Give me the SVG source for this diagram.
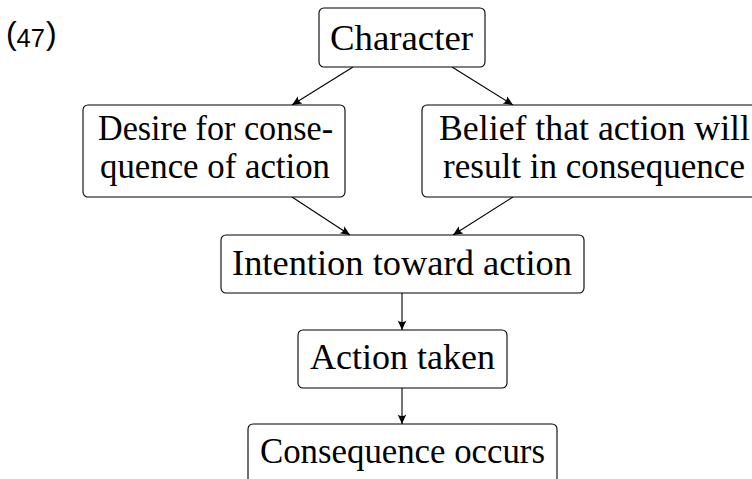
<svg xmlns="http://www.w3.org/2000/svg" width="752" height="479" viewBox="0 0 752 479">
<defs>
<style>
.box{fill:#fff;stroke:#000;stroke-width:1.1}
.t{font-family:"Liberation Serif","Times New Roman",serif;font-size:36px;fill:#000;text-anchor:middle}
.c{stroke:#000;stroke-width:1.1;fill:none;marker-end:url(#ah)}
</style>
<marker id="ah" markerUnits="userSpaceOnUse" markerWidth="12" markerHeight="12" viewBox="-9 -5 10 10" refX="0" refY="0" orient="auto">
<path d="M0,0 L-8,-3.6 Q-5.5,0 -8,3.6 Z" fill="#000"/>
</marker>
</defs>
<rect width="752" height="479" fill="#fff"/>
<text font-family="Liberation Sans, Arial, sans-serif" fill="#000"><tspan x="6" y="44" font-size="32">(</tspan><tspan x="16.5" y="47" font-size="25" textLength="28.5" lengthAdjust="spacingAndGlyphs">47</tspan><tspan x="46" y="44" font-size="32">)</tspan></text>
<g id="connectors">
<line class="c" x1="353" y1="67" x2="292" y2="105"/>
<line class="c" x1="452" y1="67" x2="513" y2="105"/>
<line class="c" x1="292" y1="197" x2="350" y2="235"/>
<line class="c" x1="513" y1="197" x2="453" y2="235"/>
<line class="c" x1="402" y1="293" x2="402" y2="330"/>
<line class="c" x1="402" y1="388" x2="402" y2="424"/>
</g>
<g id="character">
<rect class="box" x="319" y="8" width="166" height="59" rx="5"/>
<text class="t" x="401.5" y="50" textLength="143" lengthAdjust="spacingAndGlyphs">Character</text>
</g>
<g id="desire">
<rect class="box" x="83" y="105" width="262" height="92" rx="5"/>
<text class="t" x="215.5" y="140" textLength="235" lengthAdjust="spacingAndGlyphs">Desire for conse-</text>
<text class="t" x="215" y="178" textLength="230" lengthAdjust="spacingAndGlyphs">quence of action</text>
</g>
<g id="belief">
<rect class="box" x="422" y="105" width="344" height="92" rx="5"/>
<text class="t" x="594.5" y="140" textLength="311" lengthAdjust="spacingAndGlyphs">Belief that action will</text>
<text class="t" x="594" y="178" textLength="302" lengthAdjust="spacingAndGlyphs">result in consequence</text>
</g>
<g id="intention">
<rect class="box" x="221" y="235" width="363" height="58" rx="5"/>
<text class="t" x="402" y="275" textLength="340" lengthAdjust="spacingAndGlyphs">Intention toward action</text>
</g>
<g id="action">
<rect class="box" x="298" y="330" width="209" height="58" rx="5"/>
<text class="t" x="402.5" y="369" textLength="185" lengthAdjust="spacingAndGlyphs">Action taken</text>
</g>
<g id="consequence">
<rect class="box" x="248" y="424" width="309" height="60" rx="5"/>
<text class="t" x="402.5" y="463" textLength="285" lengthAdjust="spacingAndGlyphs">Consequence occurs</text>
</g>
</svg>
